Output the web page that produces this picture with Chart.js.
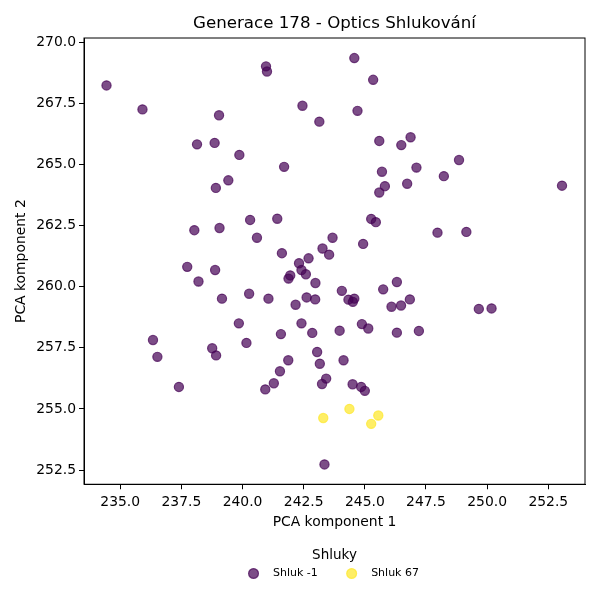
<!DOCTYPE html>
<html>
<head>
<meta charset="utf-8">
<script src="https://cdn.jsdelivr.net/npm/chart.js@4.4.0/dist/chart.umd.min.js"></script>
<style>
  html, body { margin: 0; padding: 0; background: #fff; }
</style>
</head>
<body>
<canvas id="opticsChart" width="600" height="600"></canvas>
<script>
// cluster -1 (noise)
const noiseX = [234.44, 235.91, 240.96, 241.00, 242.45, 239.04, 243.14, 238.14, 238.86, 239.87, 241.70, 239.42,
    238.91, 240.31, 241.42, 238.03, 239.06, 240.59, 241.61, 243.27, 243.54, 243.68, 242.31, 242.70,
    244.57, 245.34, 244.70, 245.59, 246.49, 246.87, 245.70, 247.11, 248.85, 248.23, 246.73, 245.82,
    245.59, 253.06, 245.26, 245.45, 247.97, 249.15, 244.93,
    237.74, 238.88, 238.20, 239.16, 240.27, 241.06, 241.95, 241.88, 242.41, 242.59, 242.98, 242.62,
    242.97, 242.17, 239.85, 242.41, 241.57, 242.85, 236.34, 238.76, 238.92, 240.16, 236.52, 243.05,
    241.87, 243.16, 241.53, 241.28, 240.93, 243.42, 243.25, 237.40, 243.35,
    244.06, 245.75, 246.31, 244.33, 244.57, 244.51, 246.09, 246.48, 246.84, 249.66, 250.18, 243.97,
    244.88, 245.14, 246.31, 247.21, 244.13, 244.50, 244.85, 245.00];
const noiseY = [268.23, 267.25, 269.01, 268.80, 267.40, 267.01, 266.75, 265.82, 265.88, 265.39, 264.90, 264.35,
    264.04, 262.73, 262.78, 262.31, 262.40, 262.00, 261.37, 261.56, 261.31, 262.00, 260.96, 261.16,
    269.35, 268.46, 267.19, 265.96, 265.79, 266.11, 264.70, 264.87, 265.18, 264.52, 264.21, 264.11,
    263.85, 264.13, 262.77, 262.64, 262.21, 262.24, 261.75,
    260.81, 260.68, 260.21, 259.51, 259.71, 259.51, 260.46, 260.33, 260.68, 260.51, 260.15, 259.56,
    259.48, 259.26, 258.50, 258.50, 258.06, 258.11, 257.82, 257.48, 257.19, 257.70, 257.13, 257.33,
    256.99, 256.85, 256.54, 256.05, 255.80, 256.24, 256.02, 255.90, 252.73,
    259.83, 259.89, 260.19, 259.47, 259.51, 259.38, 259.18, 259.23, 259.48, 259.09, 259.11, 258.20,
    258.47, 258.29, 258.12, 258.19, 256.99, 256.01, 255.90, 255.74];

// cluster 67
const cluster67X = [243.30, 244.37, 245.55, 245.26];
const cluster67Y = [254.63, 255.00, 254.73, 254.39];

const clusterLabels = ['Shluk -1', 'Shluk 67'];
const xTicks = [235.0, 237.5, 240.0, 242.5, 245.0, 247.5, 250.0, 252.5];
const yTicks = [252.5, 255.0, 257.5, 260.0, 262.5, 265.0, 267.5, 270.0];

function toPoints(xs, ys) {
    return xs.map((x, i) => ({ x: x, y: ys[i] }));
}

Chart.defaults.font.family = 'DejaVu Sans';
Chart.defaults.color = '#000';

// matplotlib style frame on all four sides
const frame = {
    id: 'frame',
    beforeDatasetsDraw(chart) {
        const { ctx, chartArea: a } = chart;
        ctx.save();
        ctx.strokeStyle = '#000';
        ctx.lineWidth = 1;
        ctx.strokeRect(a.left, a.top, a.right - a.left, a.bottom - a.top);
        ctx.restore();
    }
};

const ctx = document.getElementById('opticsChart').getContext('2d');
const chart = new Chart(ctx, {
    type: 'scatter',
    data: {
        datasets: [{
            label: clusterLabels[0],
            data: toPoints(noiseX, noiseY),
            backgroundColor: 'rgba(68, 1, 84, 0.7)',
            borderColor: 'rgba(68, 1, 84, 0.7)',
            borderWidth: 1.2,
            pointRadius: 4.6,
            pointHoverRadius: 4.6
        }, {
            label: clusterLabels[1],
            data: toPoints(cluster67X, cluster67Y),
            backgroundColor: 'rgba(253, 231, 37, 0.7)',
            borderColor: 'rgba(253, 231, 37, 0.7)',
            borderWidth: 1.2,
            pointRadius: 4.6,
            pointHoverRadius: 4.6
        }]
    },
    options: {
        responsive: false,
        animation: false,
        devicePixelRatio: 1,
        layout: { padding: { left: 0, right: 15, top: 0, bottom: 11 } },
        scales: {
            x: {
                type: 'linear',
                min: 233.52,
                max: 254.0,
                afterBuildTicks: (s) => { s.ticks = xTicks.map(v => ({ value: v })); },
                afterFit: (s) => { s.height = 46; },
                ticks: {
                    padding: 5,
                    font: { size: 13.9 },
                    color: '#000',
                    callback: (v) => Number(v).toFixed(1)
                },
                grid: { display: true, drawOnChartArea: false, drawTicks: true, tickLength: 5, color: '#000' },
                border: { display: true, color: '#000', width: 1 },
                title: {
                    display: true,
                    text: 'PCA komponent 1',
                    font: { size: 13.9 },
                    color: '#000',
                    padding: { top: 0, bottom: 0 }
                }
            },
            y: {
                type: 'linear',
                min: 251.92,
                max: 270.17,
                afterBuildTicks: (s) => { s.ticks = yTicks.map(v => ({ value: v })); },
                afterFit: (s) => { s.width = 84; },
                ticks: {
                    padding: 3,
                    font: { size: 13.9 },
                    color: '#000',
                    callback: (v) => Number(v).toFixed(1)
                },
                grid: { display: true, drawOnChartArea: false, drawTicks: true, tickLength: 5, color: '#000' },
                border: { display: true, color: '#000', width: 1 },
                title: {
                    display: true,
                    text: 'PCA komponent 2',
                    font: { size: 13.9 },
                    color: '#000',
                    padding: { top: 12.7, bottom: 0 }
                }
            }
        },
        plugins: {
            title: {
                display: true,
                fullSize: false,
                text: 'Generace 178 - Optics Shlukování',
                font: { size: 16.67, weight: 'normal' },
                color: '#000',
                padding: { top: 14, bottom: 4 }
            },
            legend: {
                display: true,
                position: 'bottom',
                fullSize: false,
                title: {
                    display: true,
                    text: 'Shluky',
                    font: { size: 13.5 },
                    color: '#000',
                    padding: { top: 18.25, bottom: -27 }
                },
                labels: {
                    usePointStyle: true,
                    pointStyle: 'circle',
                    boxWidth: 7,
                    boxHeight: 7,
                    padding: 30.3,
                    font: { size: 11 },
                    color: '#000',
                    generateLabels: (c) => Chart.defaults.plugins.legend.labels.generateLabels(c)
                        .map(item => Object.assign(item, { text: '   ' + item.text }))
                }
            },
            tooltip: { enabled: false }
        }
    },
    plugins: [frame]
});
</script>
</body>
</html>
